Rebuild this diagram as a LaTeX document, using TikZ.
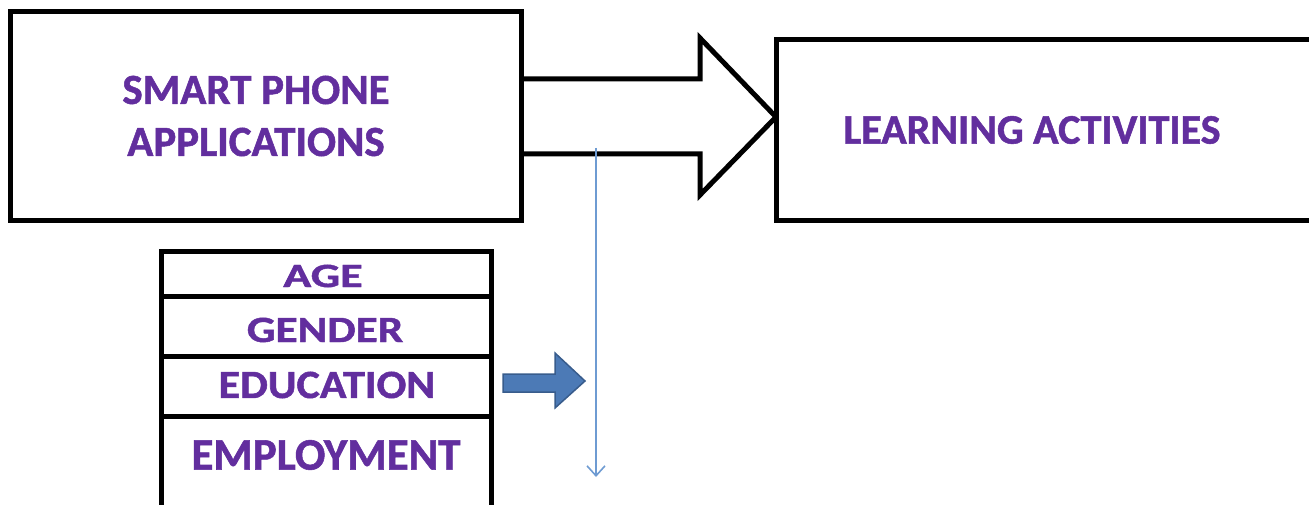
\documentclass[tikz,border=0pt]{standalone}
\usepackage{fontspec}
\setmainfont{Carlito}[BoldFeatures={FakeBold=1.2}]
\usetikzlibrary{arrows.meta,calc}
\pgfdeclarelayer{background}
\pgfsetlayers{background,main}
\definecolor{txtpurple}{RGB}{98,46,158}
\definecolor{bluefill}{RGB}{76,122,182}
\definecolor{blueedge}{RGB}{56,92,140}
\definecolor{thinblue}{RGB}{110,155,210}
\tikzset{
  box/.style={draw=black,line width=5pt,fill=white,inner sep=0pt,outer sep=0pt},
  lbl/.style={text=txtpurple,font=\bfseries,align=center,inner sep=0pt},
  bigarrow/.style={draw=black,line width=5pt,fill=white,line join=miter},
  blockarrow/.style={draw=blueedge,line width=1.5pt,fill=bluefill,line join=miter},
  thinarrow/.style={draw=thinblue,line width=1.6pt,-{Straight Barb[length=10pt,width=18pt,line width=1.6pt]}}
}
\begin{document}
\begin{tikzpicture}[x=1pt,y=-1pt]
\useasboundingbox (0,0) rectangle (1309,505);
\clip (0,0) rectangle (1309,505);
% top boxes
\node[box,minimum width=511pt,minimum height=209pt] (box1) at (265.5,116.5) {};
\node[lbl,font=\bfseries\fontsize{43}{52}\selectfont] (t1) at (256,116) {SMART PHONE\\APPLICATIONS};
\node[box,minimum width=560pt,minimum height=181pt,anchor=north west] (box2) at (776,40) {};
\node[lbl,font=\bfseries\fontsize{42}{50}\selectfont] (t2) at (1032,130) {LEARNING ACTIVITIES};
% big hollow arrow
\coordinate (a0) at ($(box1.east)+(0,-37.5)$);
\coordinate (a6) at ($(box1.east)+(0,37.5)$);
\coordinate (tip) at (box2.west |- 0,117);
\begin{pgfonlayer}{background}
\filldraw[bigarrow] (a0) -- (700,79) -- (700,38) -- (tip) -- (700,195) -- (700,154) -- (a6);
\end{pgfonlayer}
% table of variables
\node[box,minimum width=330pt,minimum height=45pt,anchor=north west] (age) at (161,251) {};
\node[box,minimum width=330pt,minimum height=60pt,anchor=north] (gender) at (age.south) {};
\node[box,minimum width=330pt,minimum height=60pt,anchor=north] (educ) at (gender.south) {};
\node[box,minimum width=330pt,minimum height=110pt,anchor=north] (empl) at (educ.south) {};
\node[lbl,font=\bfseries\fontsize{34}{40}\selectfont,xscale=1.36] (tage) at (323,276) {AGE};
\node[lbl,font=\bfseries\fontsize{37}{44}\selectfont,xscale=1.22] (tgender) at (325,330) {GENDER};
\node[lbl,font=\bfseries\fontsize{40}{48}\selectfont,xscale=1.10] (teduc) at (327,385) {EDUCATION};
\node[lbl,font=\bfseries\fontsize{45}{54}\selectfont] (templ) at (326,455) {EMPLOYMENT};
% blue block arrow
\coordinate (b0) at (503,374);
\filldraw[blockarrow] (b0) -- (555,374) -- (555,353) -- (585,381) -- (555,408) -- (555,392) -- (503,392) -- cycle;
% thin blue arrow
\coordinate (l0) at (596,148);
\coordinate (l1) at (596,477);
\draw[thinarrow] (l0) -- (l1);
\end{tikzpicture}
\end{document}
